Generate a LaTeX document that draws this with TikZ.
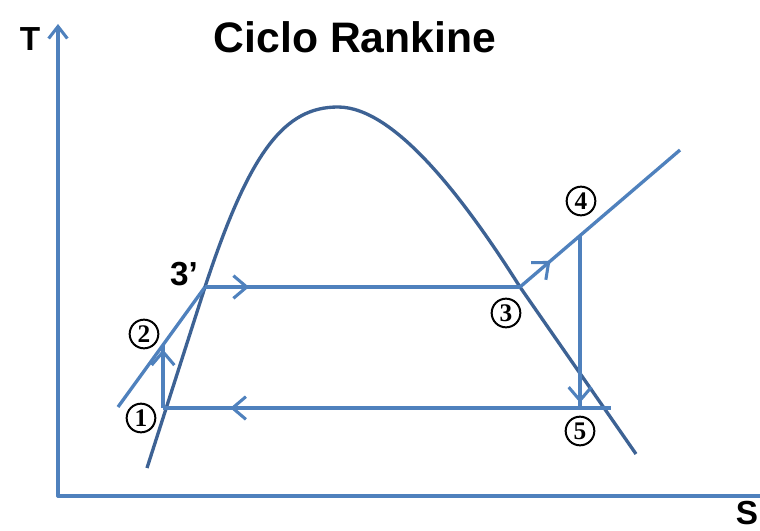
\documentclass[tikz,border=0pt]{standalone}
\usepackage{fontspec}
\setmainfont{Liberation Sans}
\newfontfamily\numfont{Liberation Serif}
\usetikzlibrary{arrows.meta,decorations.markings}
\definecolor{cycblue}{HTML}{4F81BD}
\definecolor{domeblue}{HTML}{3D6294}
\begin{document}
\begin{tikzpicture}[
    x=0.75pt,y=-0.75pt,
    axis/.style={draw=cycblue,line width=2.5pt,line cap=round,
                 -{Straight Barb[length=9pt,width=14pt,line width=2.3pt]}},
    dome/.style={draw=domeblue,line width=2.5pt},
    cyc/.style={draw=cycblue,line width=2.5pt},
    midarrow/.style={postaction={decorate},decoration={markings,
        mark=at position #1 with {\arrow{Straight Barb[length=10pt,width=17pt,line width=2.3pt]}}}},
    state/.style={circle,draw=black,line width=1.5pt,inner sep=0pt,
                  minimum size=21.5pt,font=\numfont\bfseries\fontsize{19}{19}\selectfont},
    lbl/.style={font=\bfseries\fontsize{25}{28}\selectfont,inner sep=0pt}
  ]
    \useasboundingbox (0,0) rectangle (760,531);

    % axes
    \coordinate (O) at (58,496);
    \coordinate (Ttip) at (58,24);
    \coordinate (Send) at (770,496);
    \draw[axis] (O) -- (Ttip);
    \draw[cyc,line cap=round] (O) -- (Send);
    \node[lbl] (Tlbl) at (30,39) {T};
    \node[lbl] (Slbl) at (747,513) {S};
    \node[inner sep=0pt,font=\bfseries\fontsize{32}{38}\selectfont] (title) at (355,37) {Ciclo Rankine};

    % saturation dome
    \draw[dome] (147,468) -- (205,287)
      .. controls (250,150) and (285,107) .. (338,107)
      .. controls (395,107) and (465,200) .. (520,287) -- (636,454);

    % cycle points
    \coordinate (p1) at (163,408);
    \coordinate (p2) at (163,345);
    \coordinate (p3p) at (205,287);
    \coordinate (p3) at (520,287);
    \coordinate (p4) at (580,236);
    \coordinate (p5) at (580,408);
    \coordinate (liqstart) at (118,407);
    \coordinate (vapend) at (680,150);
    \coordinate (condend) at (611,408);

    \draw[cyc] (liqstart) -- (p3p);
    \draw[cyc,midarrow=0.93] (p1) -- (p2);
    \draw[cyc,midarrow=0.14] (p3p) -- (p3);
    \draw[cyc,midarrow=0.19] (p3) -- (vapend);
    \draw[cyc,midarrow=0.97] (p4) -- (p5);
    \draw[cyc,midarrow=0.85] (condend) -- (p1);

    % labels
    \node[state] (s1) at (141,418) {1};
    \node[state] (s2) at (144,334) {2};
    \node[lbl] (s3p) at (184,274) {3’};
    \node[state] (s3) at (506,313) {3};
    \node[state] (s4) at (581,201) {4};
    \node[state] (s5) at (580,431) {5};
  \end{tikzpicture}
\end{document}
